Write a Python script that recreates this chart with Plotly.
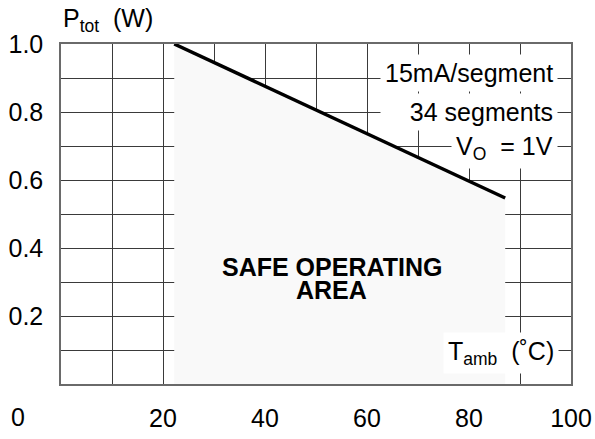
import plotly.graph_objects as go

# data
temp_c = [22.2, 87.1]          # T_amb (°C) at ends of derating line
ptot_w = [1.0, 0.547]          # P_tot (W)

x_tickvals = [0, 10, 20, 30, 40, 50, 60, 70, 80, 90, 100]
x_ticktext = ["", "", "20", "", "40", "", "60", "", "80", "", "100"]
y_tickvals = [0, 0.1, 0.2, 0.3, 0.4, 0.5, 0.6, 0.7, 0.8, 0.9, 1.0]
y_ticktext = ["", "", "0.2", "", "0.4", "", "0.6", "", "0.8", "", "1.0"]

FONT = "Liberation Sans, Arial, Helvetica, sans-serif"
FS = 25

fig = go.Figure()

# safe operating area (shaded polygon under the derating line)
area_x = [temp_c[0]] + temp_c + [temp_c[-1]]
area_y = [0] + ptot_w + [0]
fig.add_trace(go.Scatter(
    x=area_x, y=area_y, mode="lines", fill="toself",
    fillcolor="#f9f9f9", line=dict(width=0, color="#f9f9f9"),
    hoverinfo="skip", showlegend=False))

fig.add_trace(go.Scatter(
    x=temp_c, y=ptot_w, mode="lines",
    line=dict(color="black", width=3.5), showlegend=False))

axis_common = dict(
    showgrid=True, gridcolor="#3a3a3a", gridwidth=1.2,
    showline=True, linecolor="#6a6a6a", linewidth=1.5, mirror=True,
    ticks="", zeroline=False, layer="above traces", automargin=False,
    tickfont=dict(family=FONT, size=FS, color="black"),
)

fig.update_xaxes(range=[0, 100], tickvals=x_tickvals, ticktext=x_ticktext,
                 ticklabelstandoff=11, **axis_common)
fig.update_yaxes(range=[0, 1.0], tickvals=y_tickvals, ticktext=y_ticktext,
                 ticklabelstandoff=11, **axis_common)

ann_font = dict(family=FONT, size=FS, color="black")
annotations = [
    dict(text="P<sub>tot</sub>  (W)", xref="paper", yref="paper", x=0.0, y=1.072,
         xanchor="left", yanchor="middle", showarrow=False, font=ann_font),
    dict(text="0", xref="paper", yref="paper", x=-0.084, y=-0.097,
         xanchor="center", yanchor="middle", showarrow=False, font=ann_font),
    dict(text="15mA/segment", xref="x", yref="y", x=97.4, y=0.915,
         xanchor="right", yanchor="middle", showarrow=False, font=ann_font,
         bgcolor="white", borderpad=4),
    dict(text="34 segments", xref="x", yref="y", x=97.4, y=0.80,
         xanchor="right", yanchor="middle", showarrow=False, font=ann_font,
         bgcolor="white", borderpad=4, width=168, align="right"),
    dict(text="V<sub>O</sub>  = 1V", xref="x", yref="y", x=97.4, y=0.695,
         xanchor="right", yanchor="middle", showarrow=False, font=ann_font,
         bgcolor="white", borderpad=4),
    dict(text="T<sub>amb</sub>  (˚C)", xref="x", yref="y", x=97.6, y=0.09,
         xanchor="right", yanchor="middle", showarrow=False, font=ann_font,
         bgcolor="white", borderpad=4),
    dict(text="<b>SAFE OPERATING</b>", xref="x", yref="y", x=53.1, y=0.345,
         xanchor="center", yanchor="middle", showarrow=False,
         font=dict(family=FONT, size=FS, color="black")),
    dict(text="<b>AREA</b>", xref="x", yref="y", x=53.1, y=0.277,
         xanchor="center", yanchor="middle", showarrow=False,
         font=dict(family=FONT, size=FS, color="black")),
]

fig.update_layout(
    width=595, height=439,
    margin=dict(l=61, r=24, t=44, b=55, pad=0),
    paper_bgcolor="white", plot_bgcolor="white",
    annotations=annotations,
    showlegend=False,
)

fig.write_html("out.html", config={"displayModeBar": False},
               post_script="document.body.style.margin='0';")
